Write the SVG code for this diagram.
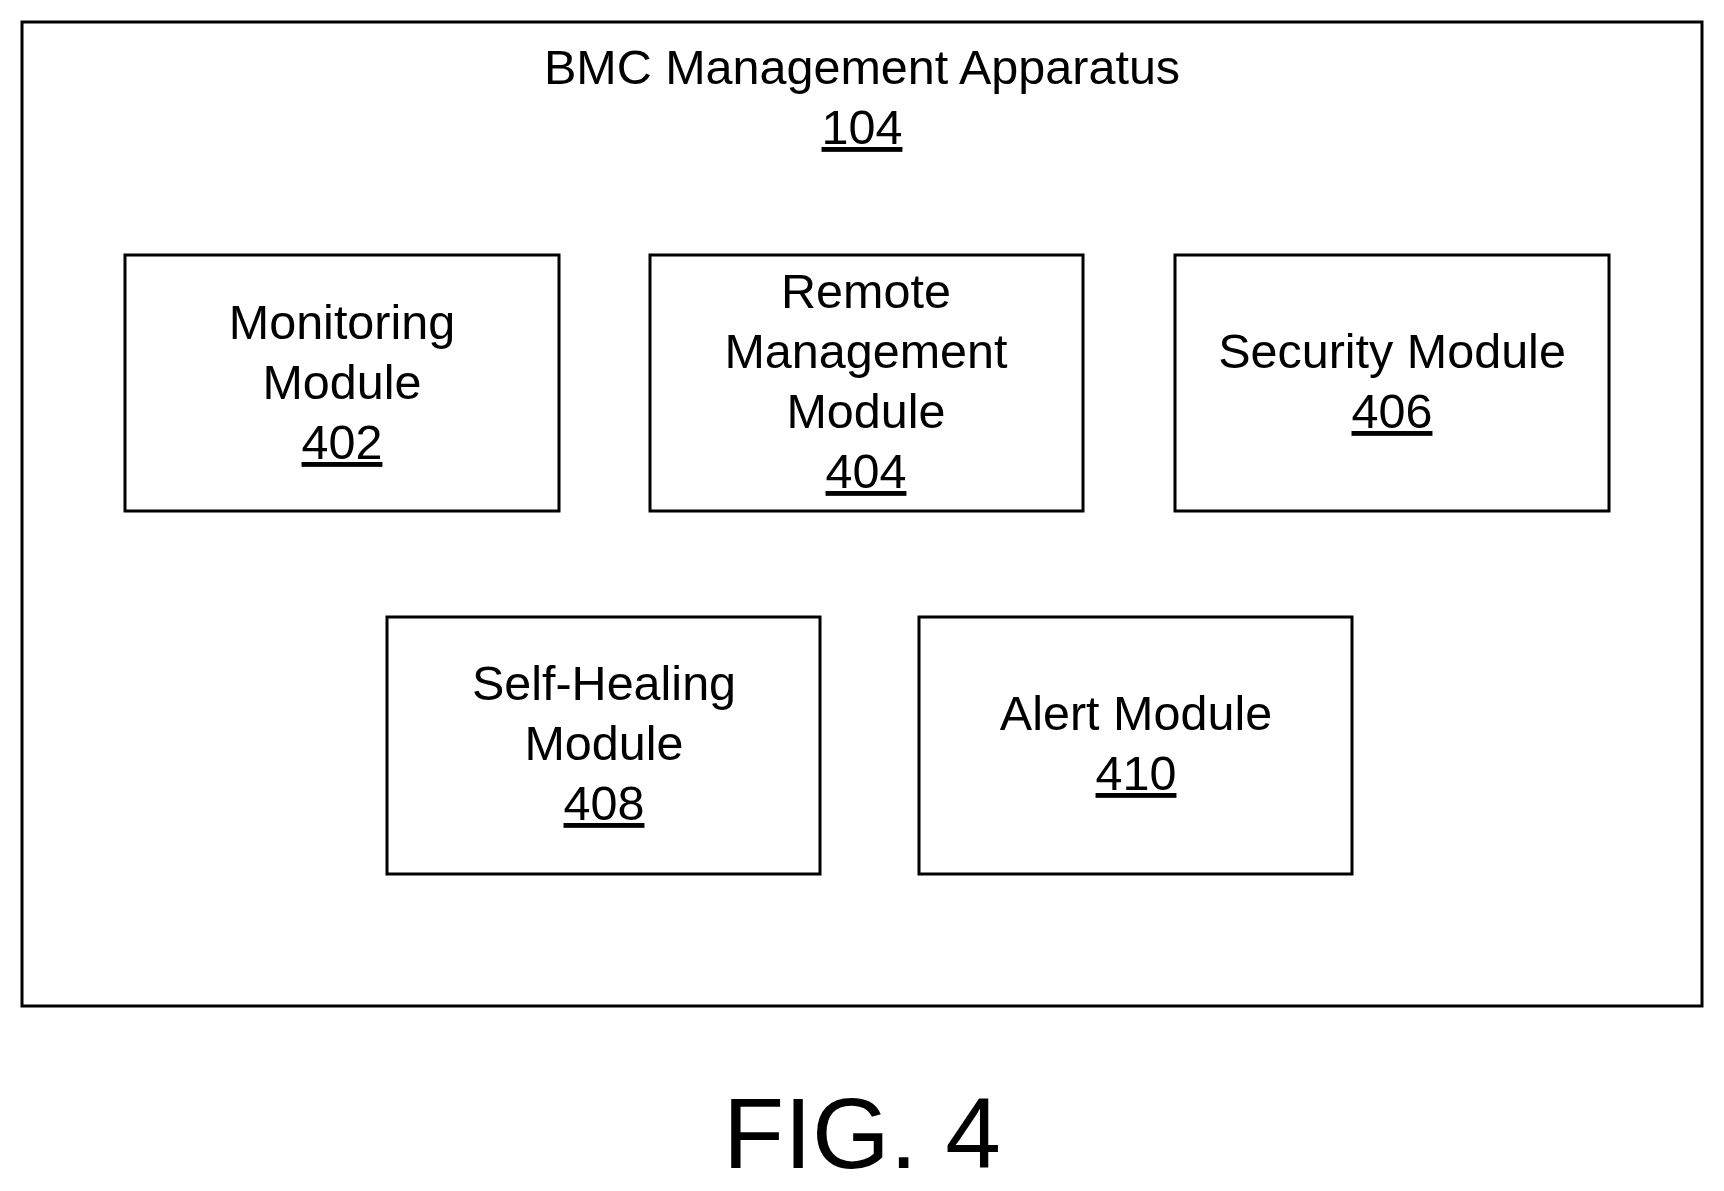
<svg xmlns="http://www.w3.org/2000/svg" width="1724" height="1191" viewBox="0 0 1724 1191">
<style>
rect{fill:#fff;stroke:#000;stroke-width:3}
text{font-family:"Liberation Sans",Arial,sans-serif;font-size:48.5px;text-anchor:middle;fill:#000}
.u{text-decoration:underline}
</style>
<rect x="0" y="0" width="1724" height="1191" style="stroke:none"/>
<g id="apparatus"><rect x="22" y="22" width="1680" height="984"/>
<text x="862" y="84">BMC Management Apparatus</text><text class="u" x="862" y="144">104</text></g>
<g id="n402"><rect x="125" y="255" width="434" height="256"/>
<text x="342" y="339">Monitoring</text><text x="342" y="399">Module</text><text class="u" x="342" y="459">402</text></g>
<g id="n404"><rect x="650" y="255" width="433" height="256"/>
<text x="866" y="308">Remote</text><text x="866" y="368">Management</text><text x="866" y="428">Module</text><text class="u" x="866" y="488">404</text></g>
<g id="n406"><rect x="1175" y="255" width="434" height="256"/>
<text x="1392" y="368">Security Module</text><text class="u" x="1392" y="428">406</text></g>
<g id="n408"><rect x="387" y="617" width="433" height="257"/>
<text x="604" y="700">Self-Healing</text><text x="604" y="760">Module</text><text class="u" x="604" y="820">408</text></g>
<g id="n410"><rect x="919" y="617" width="433" height="257"/>
<text x="1136" y="730">Alert Module</text><text class="u" x="1136" y="790">410</text></g>
<g id="connectors"></g>
<text x="862" y="1168" style="font-size:100px">FIG. 4</text>
</svg>
